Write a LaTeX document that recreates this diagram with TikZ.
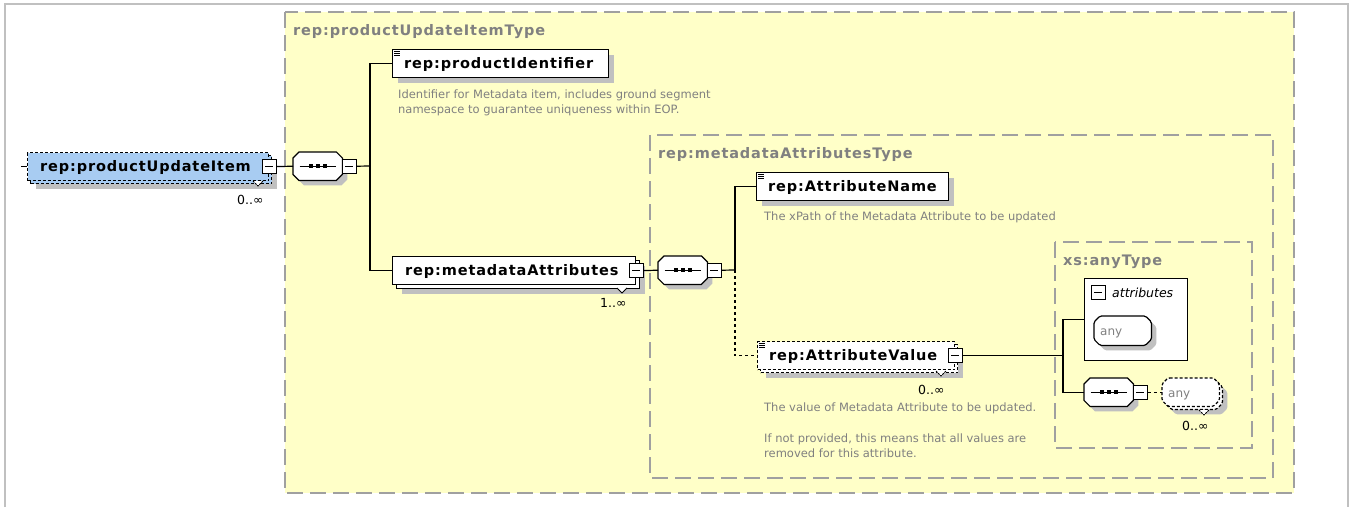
\documentclass[tikz,border=0pt]{standalone}
\usepackage{fontspec}
\setmainfont{DejaVu Sans}
\newfontfamily\lblfont[LetterSpace=6]{DejaVu Sans}
\usetikzlibrary{shadows}
\definecolor{typefill}{RGB}{255,255,200}
\definecolor{boxgray}{RGB}{160,160,160}
\definecolor{shgray}{RGB}{192,192,192}
\definecolor{framegray}{RGB}{192,192,192}
\definecolor{rootblue}{RGB}{168,204,242}
\definecolor{titlegray}{RGB}{128,128,128}
\definecolor{descgray}{RGB}{128,128,128}
% chamfered outline around a node: node, chamfer, x offset, y offset
\newcommand\octpath[4]{%
  ([shift={(#2+#3,#4)}]#1.north west) -- ([shift={(-#2+#3,#4)}]#1.north east)
  -- ([shift={(#3,#2+#4)}]#1.north east) -- ([shift={(#3,-#2+#4)}]#1.south east)
  -- ([shift={(-#2+#3,#4)}]#1.south east) -- ([shift={(#2+#3,#4)}]#1.south west)
  -- ([shift={(#3,-#2+#4)}]#1.south west) -- ([shift={(#3,#2+#4)}]#1.north west) -- cycle}
% sequence compositor drawn on an anchor node
\newcommand\seqglyph[1]{%
  \fill[shgray] \octpath{#1}{6}{5}{5};
  \draw[line width=1.2pt,fill=white] \octpath{#1}{6}{0}{0};
  \draw[line width=1pt] ([xshift=-18pt]#1.center) -- ([xshift=18pt]#1.center);
  \foreach \dx in {-7,0,7} \fill ([xshift=\dx pt]#1.center) +(-2pt,-2pt) rectangle +(2pt,2pt);}
\newcommand\minusmark[1]{\draw[line width=1pt] ([xshift=-4pt]#1.center) -- ([xshift=4pt]#1.center);}
\begin{document}
\begin{tikzpicture}[x=1pt,y=-1pt,
  conn/.style={line width=1.2pt,black},
  dconn/.style={conn,dash pattern=on 3pt off 3pt},
  typebox/.style={draw=boxgray,fill=typefill,line width=1.6pt,dash pattern=on 16pt off 7pt},
  innertype/.style={draw=boxgray,line width=1.6pt,dash pattern=on 16pt off 7pt},
  shadowed/.style={drop shadow={shadow xshift=5pt,shadow yshift=-5pt,opacity=1,fill=shgray,draw=none}},
  elembox/.style={rectangle,draw=black,fill=white,line width=1.2pt,inner sep=0pt,anchor=north west},
  optbox/.style={elembox,dash pattern=on 3pt off 2pt},
  minusbox/.style={rectangle,draw=black,fill=white,line width=1pt,minimum size=14pt,inner sep=0pt},
  anchorbox/.style={rectangle,draw=none,inner sep=0pt,anchor=north west},
  lbl/.style={anchor=base west,inner sep=0pt,font=\lblfont\bfseries\fontsize{14.5}{16}\selectfont},
  ttl/.style={lbl,text=titlegray},
  desc/.style={anchor=base west,inner sep=0pt,text=descgray,font=\fontsize{11.5}{15}\selectfont},
  card/.style={anchor=base west,inner sep=0pt,font=\fontsize{12.5}{14}\selectfont},
  marker/.style={line width=0.8pt,black,fill=white},
]
\useasboundingbox (0,0) rectangle (1354,507);

% page frame
\draw[framegray,line width=2pt] (5,507) -- (5,4) -- (1348,4) -- (1348,507);

% complex type frames
\draw[typebox] (285,12) rectangle (1294,493);
\node[ttl] (t1) at (293,35) {rep:productUpdateItemType};
\draw[innertype] (650,135) rectangle (1273,478);
\node[ttl] (t2) at (658,158) {rep:metadataAttributesType};
\draw[innertype] (1055,242) rectangle (1252,448);
\node[ttl] (t3) at (1063,265) {xs:anyType};

% root element (optional, repeating)
\draw[line width=1pt] (21,166) -- (27,166);
\node[optbox,fill=rootblue,minimum width=241pt,minimum height=28pt,shadowed] (rootb) at (30,155) {};
\node[optbox,fill=rootblue,minimum width=241pt,minimum height=28pt] (root) at (27,152) {};
\node[lbl] (rootl) at (40,171) {rep:productUpdateItem};
\node[minusbox] (rootm) at (root.east) {};
\minusmark{rootm}
\draw[marker,dash pattern=on 2pt off 1pt] (253,181) -- (258,186) -- (263,181);
\node[card] (rootc) at (237,204) {0..∞};

% sequence 1
\node[anchorbox,minimum width=49pt,minimum height=28pt] (s1) at (293,152) {};
\seqglyph{s1}
\node[minusbox] (s1m) at ([xshift=7pt]s1.east) {};
\minusmark{s1m}
\draw[conn] (rootm.east) -- (s1.west);

% productIdentifier
\node[elembox,minimum width=216pt,minimum height=28pt,shadowed] (pid) at (392,49) {};
\foreach \dy in {2,4,6} \draw[line width=0.7pt] ([shift={(2,\dy)}]pid.north west) -- ++(6,0);
\node[lbl] (pidl) at (404,68) {rep:productIdentifier};
\node[desc] (pidd1) at (398,98) {Identifier for Metadata item, includes ground segment};
\node[desc] (pidd2) at (398,113) {namespace to guarantee uniqueness within EOP.};

% metadataAttributes (repeating)
\node[elembox,minimum width=243pt,minimum height=28pt,shadowed] (mdab) at (396,260) {};
\node[elembox,minimum width=243pt,minimum height=28pt] (mda) at (392,256) {};
\node[lbl] (mdal) at (405,275) {rep:metadataAttributes};
\node[minusbox] (mdam) at (mda.east) {};
\minusmark{mdam}
\draw[marker] (617,288) -- (622,293) -- (627,288);
\node[card] (mdac) at (600,307) {1..∞};

\coordinate (b1) at (370,166);
\draw[conn] (s1m.east) -- (b1);
\draw[conn] (pid.west) -| (b1) |- (mda.west);

% sequence 2
\node[anchorbox,minimum width=49pt,minimum height=28pt] (s2) at (658,256) {};
\seqglyph{s2}
\node[minusbox] (s2m) at ([xshift=7pt]s2.east) {};
\minusmark{s2m}
\draw[conn] (mdam.east) -- (s2.west);

% AttributeName
\node[elembox,minimum width=192pt,minimum height=28pt,shadowed] (an) at (756,172) {};
\foreach \dy in {2,4,6} \draw[line width=0.7pt] ([shift={(2,\dy)}]an.north west) -- ++(6,0);
\node[lbl] (anl) at (768,191) {rep:AttributeName};
\node[desc] (and) at (764,220) {The xPath of the Metadata Attribute to be updated};

% AttributeValue (optional, repeating)
\node[optbox,minimum width=197pt,minimum height=28pt,shadowed] (avb) at (760,344) {};
\node[optbox,minimum width=197pt,minimum height=28pt] (av) at (757,341) {};
\foreach \dy in {2,4,6} \draw[line width=0.7pt] ([shift={(2,\dy)}]av.north west) -- ++(6,0);
\node[lbl] (avl) at (769,360) {rep:AttributeValue};
\node[minusbox] (avm) at (av.east) {};
\minusmark{avm}
\draw[marker,dash pattern=on 2pt off 1pt] (936,371) -- (941,376) -- (946,371);
\node[card] (avc) at (918,394) {0..∞};
\node[desc] (avd1) at (764,411) {The value of Metadata Attribute to be updated.};
\node[desc] (avd2) at (764,442) {If not provided, this means that all values are};
\node[desc] (avd3) at (764,457) {removed for this attribute.};

\coordinate (b2) at (735,270);
\draw[conn] (s2m.east) -- (b2);
\draw[conn] (b2) |- (an.west);
\draw[dconn] (b2) |- (av.west);

% anyType content: attribute group
\node[elembox,minimum width=103pt,minimum height=82pt] (attrs) at (1084,278) {};
\node[minusbox] (attrsm) at (1098,292) {};
\minusmark{attrsm}
\node[anchor=base west,inner sep=0pt,font=\itshape\fontsize{12.5}{14}\selectfont] (attrsl) at (1112,297) {attributes};
\node[anchorbox,minimum width=57pt,minimum height=29pt] (anyattr) at (1094,316) {};
\fill[shgray,rounded corners=1.5pt] \octpath{anyattr}{6}{5}{5};
\draw[line width=1.2pt,fill=white,rounded corners=1.5pt] \octpath{anyattr}{6}{0}{0};
\node[anchor=base west,inner sep=0pt,text=titlegray,font=\fontsize{12}{14}\selectfont] (anyattrl) at (1100,335) {any};

% anyType content: sequence of any elements
\node[anchorbox,minimum width=49pt,minimum height=28pt] (s3) at (1084,378) {};
\seqglyph{s3}
\node[minusbox] (s3m) at ([xshift=7pt]s3.east) {};
\minusmark{s3m}

\node[anchorbox,minimum width=57pt,minimum height=28pt] (anyelb) at (1165,381) {};
\node[anchorbox,minimum width=57pt,minimum height=28pt] (anyel) at (1162,378) {};
\fill[shgray,rounded corners=1.5pt] \octpath{anyelb}{6}{5}{5};
\draw[line width=1.2pt,fill=white,rounded corners=1.5pt,dash pattern=on 3pt off 2pt] \octpath{anyelb}{6}{0}{0};
\draw[line width=1.2pt,fill=white,rounded corners=1.5pt,dash pattern=on 3pt off 2pt] \octpath{anyel}{6}{0}{0};
\node[anchor=base west,inner sep=0pt,text=titlegray,font=\fontsize{12}{14}\selectfont] (anyell) at (1168,397) {any};
\draw[marker,dash pattern=on 2pt off 1pt] (1199,410) -- (1204,415) -- (1209,410);
\node[card] (anyelc) at (1182,430) {0..∞};

\coordinate (colx) at (1063,0);
\coordinate (b3) at (avm.east -| colx);
\draw[conn] (avm.east) -- (b3);
\draw[conn] (attrs.west) -| (b3) |- (s3.west);
\draw[dconn] (s3m.east) -- (anyel.west);
\end{tikzpicture}
\end{document}
